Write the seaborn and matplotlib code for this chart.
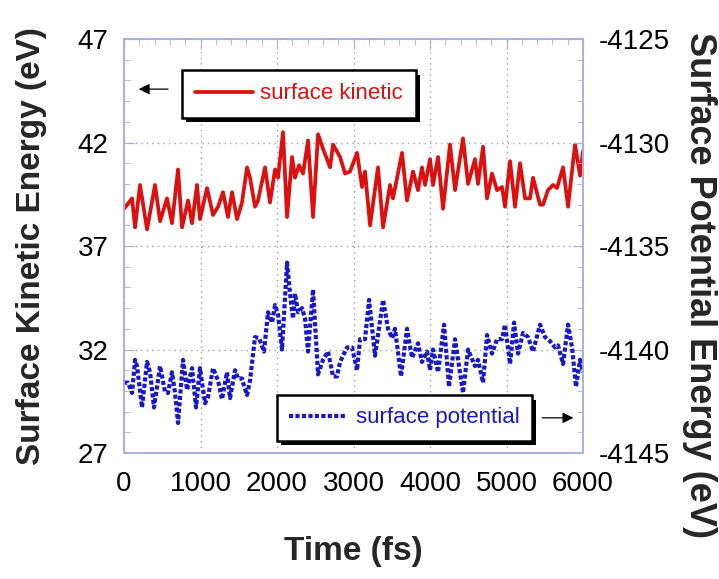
import numpy as np
import pandas as pd
import matplotlib
matplotlib.use("Agg")
import matplotlib.pyplot as plt
import seaborn as sns
from matplotlib import patheffects as pe
from matplotlib.ticker import MultipleLocator

# ---------------- data ----------------
kin_time = [0, 105, 144, 209, 301, 405, 471, 562, 627, 706, 758, 837, 889, 954, 993,
            1085, 1163, 1229, 1294, 1359, 1412, 1477, 1542, 1608, 1647, 1712, 1752, 1843,
            1908, 1974, 2013, 2078, 2131, 2196, 2235, 2288, 2340, 2405, 2471, 2536, 2601,
            2693, 2732, 2824, 2889, 2954, 3046, 3111, 3150, 3216, 3320, 3386, 3477, 3516,
            3634, 3699, 3778, 3843, 3895, 3935, 4000, 4039, 4105, 4170, 4261, 4327, 4431,
            4497, 4588, 4627, 4693, 4745, 4810, 4876, 4941, 4980, 5046, 5111, 5176, 5242,
            5307, 5346, 5438, 5477, 5542, 5608, 5660, 5739, 5804, 5895, 5961, 6000]
kin_energy = [38.8, 39.3, 37.9, 39.95, 37.8, 39.95, 38.2, 39.3, 38.1, 40.7, 37.9, 39.2,
              38.1, 39.95, 38.3, 39.8, 38.5, 38.9, 39.6, 38.4, 39.6, 38.3, 39.1, 40.8, 40.3,
              38.9, 39.2, 40.8, 39.1, 40.7, 40.3, 42.5, 38.4, 41.3, 40.3, 40.9, 40.5, 42.1,
              38.4, 42.4, 41.7, 40.8, 41.9, 41.3, 40.5, 40.6, 41.5, 39.85, 40.6, 38.0, 40.8,
              37.9, 39.95, 39.3, 41.5, 39.2, 40.6, 39.7, 40.8, 39.95, 41.2, 39.95, 41.3, 38.8,
              41.9, 39.7, 42.2, 40.0, 41.2, 40.0, 41.8, 39.3, 40.5, 39.7, 39.85, 38.9, 41.1,
              38.9, 41.0, 39.3, 39.3, 40.3, 39.0, 39.0, 39.7, 39.95, 39.8, 40.8, 38.9, 41.9,
              40.4, 41.6]

pot_time = [0, 52, 105, 144, 170, 235, 301, 340, 392, 471, 536, 575, 627, 667, 706, 771,
            824, 889, 941, 993, 1059, 1098, 1163, 1229, 1281, 1346, 1386, 1451, 1490, 1542,
            1556, 1608, 1647, 1712, 1765, 1830, 1882, 1935, 1974, 2013, 2065, 2131, 2170,
            2209, 2235, 2275, 2327, 2366, 2405, 2471, 2536, 2601, 2667, 2732, 2784, 2824,
            2915, 2980, 3046, 3085, 3150, 3203, 3281, 3386, 3451, 3503, 3542, 3621, 3699,
            3765, 3843, 3895, 3961, 4000, 4039, 4105, 4183, 4248, 4327, 4431, 4497, 4588,
            4627, 4693, 4745, 4810, 4876, 4941, 4980, 5046, 5098, 5150, 5216, 5281, 5346,
            5438, 5503, 5569, 5634, 5673, 5739, 5804, 5856, 5908, 5961, 6000]
pot_energy = [-4141.6, -4141.6, -4142.1, -4140.5, -4140.8, -4142.8, -4140.6, -4141.1,
              -4142.8, -4140.8, -4142.05, -4142.1, -4141.1, -4142.1, -4143.55, -4140.5,
              -4141.95, -4140.9, -4142.8, -4140.9, -4142.6, -4142.3, -4140.9, -4141.5,
              -4142.4, -4141.1, -4142.35, -4141.0, -4141.4, -4141.4, -4141.6, -4142.2,
              -4141.5, -4139.4, -4139.45, -4140.1, -4138.2, -4138.7, -4137.85, -4138.3,
              -4140.0, -4135.8, -4137.3, -4138.5, -4137.3, -4138.2, -4138.0, -4138.5,
              -4140.1, -4137.1, -4141.2, -4140.5, -4140.1, -4141.3, -4141.3, -4140.6,
              -4139.9, -4139.9, -4141.0, -4139.5, -4139.5, -4137.6, -4140.3, -4137.6,
              -4139.0, -4139.45, -4139.0, -4141.3, -4139.0, -4140.4, -4139.7, -4140.6,
              -4140.1, -4141.0, -4140.0, -4141.1, -4138.8, -4141.8, -4139.5, -4142.1,
              -4140.0, -4140.8, -4140.5, -4141.6, -4139.3, -4140.2, -4139.5, -4139.5,
              -4138.8, -4140.7, -4138.7, -4140.2, -4139.2, -4139.4, -4140.1, -4138.8,
              -4139.4, -4139.6, -4139.9, -4139.8, -4140.7, -4138.8, -4139.9, -4141.8,
              -4140.5, -4141.1]

x_ticks = [0, 1000, 2000, 3000, 4000, 5000, 6000]
left_ticks = [27, 32, 37, 42, 47]
right_ticks = [-4145, -4140, -4135, -4130, -4125]

# ---------------- style ----------------
sns.set_style("white")
plt.rcParams["font.family"] = ["Liberation Sans", "DejaVu Sans"]
plt.rcParams["axes.unicode_minus"] = False

RED = "#dd1010"
BLUE = "#1818c8"
SPINE = "#a8aee6"
GRID = "#9a9cc8"
TICKSIZE = 20

fig = plt.figure(figsize=(7.19, 5.79), dpi=100)
ax = fig.add_axes([0.1725, 0.2176, 0.6384, 0.715])
ax2 = ax.twinx()

kin_df = pd.DataFrame({"Time": kin_time, "Energy": kin_energy})
pot_df = pd.DataFrame({"Time": pot_time, "Energy": pot_energy})

sns.lineplot(data=kin_df, x="Time", y="Energy", ax=ax, color=RED, lw=2.7,
             label="surface kinetic", legend=False)
sns.lineplot(data=pot_df, x="Time", y="Energy", ax=ax2, color=BLUE, lw=3.0,
             label="surface potential", legend=False)
ax.lines[0].set_solid_joinstyle("round")
ax2.lines[0].set_dashes((1.0, 0.55))

ax.set_xlim(0, 6000)
ax.set_ylim(27, 47)
ax2.set_ylim(-4145, -4125)
ax.set_xticks(x_ticks)
ax.set_yticks(left_ticks)
ax2.set_yticks(right_ticks)
ax.xaxis.set_minor_locator(MultipleLocator(200))
ax.yaxis.set_minor_locator(MultipleLocator(1))
ax2.yaxis.set_minor_locator(MultipleLocator(1))

ax.grid(True, which="major", linestyle=(0, (1, 3)), color=GRID, lw=1.0)
ax2.grid(False)

for a in (ax, ax2):
    for s in a.spines.values():
        s.set_color(SPINE)
        s.set_linewidth(1.2)
ax.tick_params(axis="both", which="both", direction="in", color=SPINE, top=True,
               labelsize=TICKSIZE, labelcolor="black")
ax.tick_params(axis="x", which="major", length=7, pad=13)
ax.tick_params(axis="y", which="major", length=7, pad=11)
ax.tick_params(which="minor", length=4)
ax.tick_params(axis="y", right=False)
ax2.tick_params(axis="y", which="both", direction="in", color=SPINE,
                labelsize=TICKSIZE, labelcolor="black", pad=11)
ax2.tick_params(axis="y", which="major", length=7)
ax2.tick_params(axis="y", which="minor", length=4)

ax.set_xlabel("Time (fs)", fontsize=24, fontweight="bold", labelpad=28)
ax.set_ylabel("Surface Kinetic Energy (eV)", fontsize=24, fontweight="bold", labelpad=22)
ax2.set_ylabel("Surface Potential Energy (eV)", fontsize=26, fontweight="bold",
               rotation=270, va="bottom")
ax2.yaxis.set_label_coords(1.215, 0.405)

shadow = [pe.withSimplePatchShadow(offset=(3.2, -3.2), shadow_rgbFace="black", alpha=1.0)]

h1 = ax.lines[0]
h2 = ax2.lines[0]
leg1 = ax2.legend(handles=[h1], labels=["surface kinetic"], loc="upper left",
                  bbox_to_anchor=(0.126, 0.925), borderaxespad=0, fontsize=16,
                  labelcolor=RED, frameon=True, fancybox=False, framealpha=1,
                  edgecolor="black", handlelength=2.6, handletextpad=0.3,
                  borderpad=0.6)
leg1.get_frame().set_linewidth(1.8)
leg1.get_frame().set_path_effects(shadow)
ax2.add_artist(leg1)
leg2 = ax2.legend(handles=[h2], labels=["surface potential"], loc="lower left",
                  bbox_to_anchor=(0.333, 0.03), borderaxespad=0, fontsize=16,
                  labelcolor=BLUE, frameon=True, fancybox=False, framealpha=1,
                  edgecolor="black", handlelength=2.6, handletextpad=0.4,
                  borderpad=0.55)
leg2.get_frame().set_linewidth(1.8)
leg2.get_frame().set_path_effects(shadow)

arrow = dict(arrowstyle="-|>", color="black", lw=0.9, mutation_scale=16)
ax2.annotate("", xy=(0.026, 0.879), xytext=(0.102, 0.879), xycoords="axes fraction",
             textcoords="axes fraction", arrowprops=arrow)
ax2.annotate("", xy=(0.985, 0.085), xytext=(0.905, 0.085), xycoords="axes fraction",
             textcoords="axes fraction", arrowprops=arrow)

fig.savefig("out.png", dpi=100)
